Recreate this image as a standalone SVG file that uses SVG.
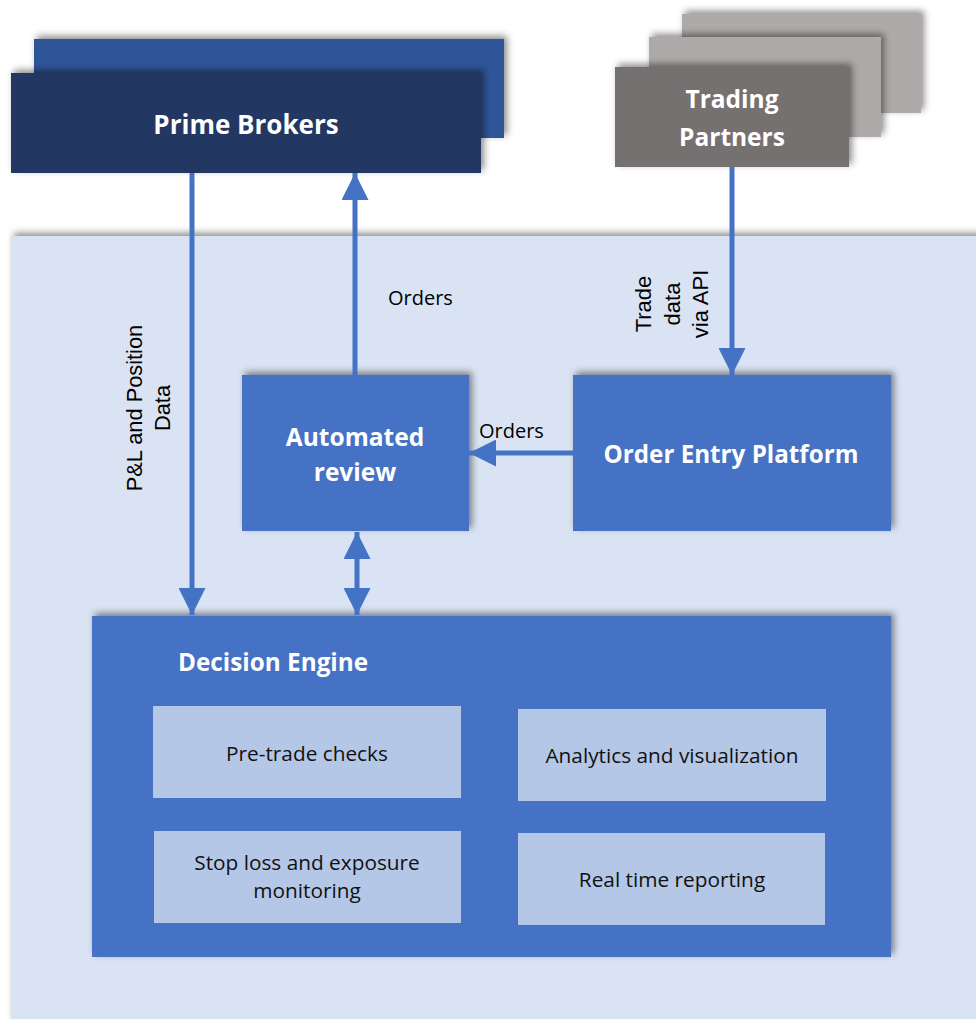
<svg xmlns="http://www.w3.org/2000/svg" width="976" height="1019" viewBox="0 0 976 1019">
<defs>
<filter id="sh" x="-10%" y="-20%" width="120%" height="140%">
<feDropShadow dx="3" dy="-3" stdDeviation="3.5" flood-color="#000" flood-opacity="0.45"/>
</filter>
<marker id="ah" viewBox="0 0 10 10" refX="10" refY="5" markerWidth="5.4" markerHeight="5.4" orient="auto" markerUnits="strokeWidth">
<path d="M0,0 L10,5 L0,10 z" fill="#4472C4"/>
</marker>
<marker id="ahs" viewBox="0 0 10 10" refX="0" refY="5" markerWidth="5.4" markerHeight="5.4" orient="auto" markerUnits="strokeWidth">
<path d="M10,0 L0,5 L10,10 z" fill="#4472C4"/>
</marker>
<style>
.box{fill:#4472C4;filter:url(#sh)}
.sub{fill:#B4C7E7}
.wt{font-family:"Open Sans","Noto Sans","DejaVu Sans",sans-serif;font-weight:bold;fill:#fff;text-anchor:middle}
.bt{font-family:"Open Sans","Noto Sans","DejaVu Sans",sans-serif;fill:#111;text-anchor:middle;font-size:20.8px}
.lbl{font-family:"Liberation Sans",Arial,sans-serif;fill:#000;text-anchor:middle}
.ln{stroke:#4472C4;stroke-width:5;fill:none}
</style>
</defs>
<rect width="976" height="1019" fill="#fff"/>
<g id="panel">
<rect x="11" y="236" width="975" height="790" fill="#DAE3F3" filter="url(#sh)"/>
</g>
<g id="prime-brokers">
<rect x="34" y="39" width="470" height="99" fill="#2F5597" filter="url(#sh)"/>
<rect x="11" y="73" width="470" height="100" fill="#203864" filter="url(#sh)"/>
<text class="wt" x="246" y="134" font-size="26">Prime Brokers</text>
</g>
<g id="trading-partners">
<rect x="682" y="14" width="239" height="99" fill="#AEAAAA" filter="url(#sh)"/>
<rect x="649" y="37" width="232" height="100" fill="#AEAAAA" filter="url(#sh)"/>
<rect x="615" y="67" width="234" height="100" fill="#767171" filter="url(#sh)"/>
<text class="wt" x="732" y="108" font-size="24.5">Trading</text>
<text class="wt" x="732" y="146" font-size="24.5">Partners</text>
</g>
<g id="automated-review">
<rect class="box" x="242" y="375" width="227" height="156"/>
<text class="wt" x="355" y="446" font-size="24.5">Automated</text>
<text class="wt" x="355" y="481" font-size="24.5">review</text>
</g>
<g id="order-entry">
<rect class="box" x="573" y="375" width="318" height="156"/>
<text class="wt" x="731" y="463" font-size="24.2">Order Entry Platform</text>
</g>
<g id="decision-engine">
<rect class="box" x="92" y="616" width="799" height="341"/>
<text class="wt" x="178" y="671" font-size="24.3" style="text-anchor:start">Decision Engine</text>
</g>
<g id="pre-trade">
<rect class="sub" x="153" y="706" width="308" height="92"/>
<text class="bt" x="307" y="761">Pre-trade checks</text>
</g>
<g id="stop-loss">
<rect class="sub" x="154" y="831" width="307" height="92"/>
<text class="bt" x="307" y="870">Stop loss and exposure</text>
<text class="bt" x="307" y="898">monitoring</text>
</g>
<g id="analytics">
<rect class="sub" x="518" y="709" width="308" height="92"/>
<text class="bt" x="672" y="763">Analytics and visualization</text>
</g>
<g id="real-time">
<rect class="sub" x="518" y="833" width="307" height="92"/>
<text class="bt" x="672" y="887">Real time reporting</text>
</g>
<g id="connectors">
<line class="ln" x1="192" y1="173" x2="192" y2="615" marker-end="url(#ah)"/>
<line class="ln" x1="355" y1="375" x2="355" y2="173" marker-end="url(#ah)"/>
<line class="ln" x1="357" y1="532" x2="357" y2="615" marker-start="url(#ahs)" marker-end="url(#ah)"/>
<line class="ln" x1="573" y1="453" x2="469" y2="453" marker-end="url(#ah)"/>
<line class="ln" x1="732" y1="167" x2="732" y2="375" marker-end="url(#ah)"/>
<text class="lbl" style="font-family:'Open Sans','Noto Sans',sans-serif;text-anchor:start" x="388" y="305" font-size="20">Orders</text>
<text class="lbl" style="font-family:'Open Sans','Noto Sans',sans-serif;text-anchor:start" x="479" y="438" font-size="20">Orders</text>
<g transform="translate(142,408) rotate(-90)">
<text class="lbl" x="0" y="0" font-size="21.8">P&amp;L and Position</text>
<text class="lbl" x="0" y="28" font-size="21.8">Data</text>
</g>
<g transform="translate(651,304) rotate(-90)">
<text class="lbl" x="0" y="0" font-size="22">Trade</text>
<text class="lbl" x="0" y="29" font-size="22">data</text>
<text class="lbl" x="0" y="57" font-size="22">via API</text>
</g>
</g>
</svg>
